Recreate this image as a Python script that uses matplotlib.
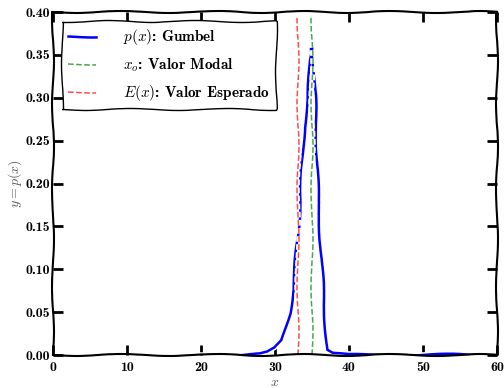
import matplotlib
matplotlib.use("Agg")
import matplotlib.pyplot as plt
from matplotlib import patheffects

# curva p(x)
x_curve = [20.0, 25.0, 28.0, 29.0, 30.0, 30.9, 32.0, 32.5, 32.8, 33.15, 33.47, 33.8,
           33.96, 34.5, 34.73, 34.95, 35.2, 35.4, 35.6, 35.85, 36.3, 36.76, 37.07,
           37.8, 40.0, 45.0, 50.0, 55.0, 60.0]
y_curve = [0.0, 0.0, 0.001, 0.003, 0.008, 0.017, 0.049, 0.076, 0.11, 0.142, 0.196, 0.235,
           0.266, 0.297, 0.344, 0.359, 0.344, 0.313, 0.259, 0.181, 0.11, 0.044, 0.006,
           0.002, 0.0, 0.0005, 0.0, 0.0005, 0.0]
x_modal = 35.04
x_esperado = 33.15
y_top = 0.395
xticks = [0, 10, 20, 30, 40, 50, 60]
yticks = [0.00, 0.05, 0.10, 0.15, 0.20, 0.25, 0.30, 0.35, 0.40]

with plt.xkcd():
    plt.rcParams['mathtext.fontset'] = 'cm'
    plt.rcParams['font.family'] = 'serif'
    plt.rcParams['path.effects'] = []  # texto sem contorno branco
    halo = [patheffects.withStroke(linewidth=4, foreground='w')]

    fig = plt.figure(figsize=(5.04, 3.88), dpi=100)
    ax = fig.add_axes([0.105, 0.085, 0.881, 0.884])

    l1, = ax.plot(x_curve, y_curve, color='blue', lw=1.8, label=r'$p(x)$: Gumbel')
    l2, = ax.plot([x_modal, x_modal], [0, y_top], '--', color='green', lw=1.1, alpha=0.7,
                  label=r'$x_o$: Valor Modal')
    l3, = ax.plot([x_esperado, x_esperado], [0, y_top], '--', color='red', lw=1.1, alpha=0.7,
                  label=r'$E(x)$: Valor Esperado')
    for ln in (l1, l2, l3):
        ln.set_path_effects(halo)

    ax.set_xlim(0, 60)
    ax.set_ylim(0, 0.40)
    ax.set_xticks(xticks)
    ax.set_xticklabels(['%d' % v for v in xticks], fontfamily='cmb10')
    ax.set_yticks(yticks)
    ax.set_yticklabels(['%.2f' % v for v in yticks], fontfamily='cmb10')
    ax.tick_params(direction='in', length=7, width=2, top=True, right=True,
                   labelsize=10)
    ax.tick_params(axis='x', pad=5)
    ax.tick_params(axis='y', pad=2)
    for s in ax.spines.values():
        s.set_linewidth(1.5)

    ax.set_xlabel(r'$x$', color='#555555', fontsize=10, labelpad=1)
    ax.set_ylabel(r'$y=p(x)$', color='#555555', fontsize=10, labelpad=1)

    leg = ax.legend(loc='upper left', prop={'family': 'cmb10', 'size': 11},
                    handlelength=1.8, handletextpad=1.8,
                    fancybox=False, framealpha=1, borderpad=0.4, labelspacing=0.6,
                    borderaxespad=0.6)
    leg.get_frame().set_edgecolor('black')
    for h in leg.get_lines():
        h.set_path_effects(halo)

    fig.savefig('out.png', dpi=100)
